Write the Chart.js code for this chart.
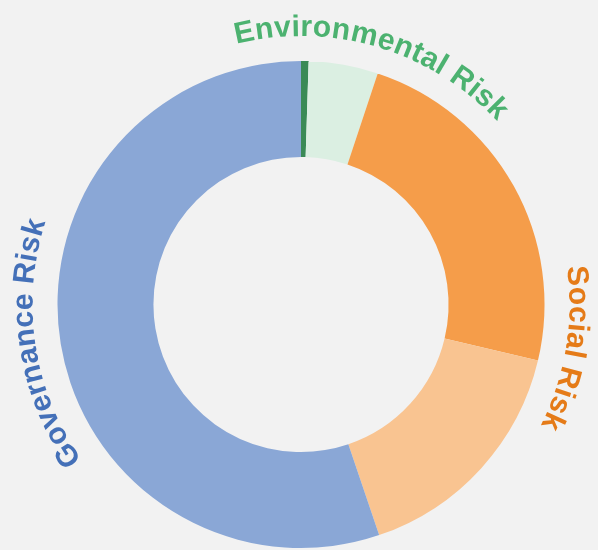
<!DOCTYPE html>
<html>
<head>
<meta charset="utf-8">
<script src="https://cdn.jsdelivr.net/npm/chart.js@4.4.1/dist/chart.umd.min.js"></script>
<style>
  html, body { margin: 0; padding: 0; background: #f2f2f2; }
  #wrap { width: 598px; height: 550px; position: relative; }
</style>
</head>
<body>
<div id="wrap"><canvas id="chart"></canvas></div>
<script>
// segments of the ring, clockwise from 12 o'clock
const segmentLabels = ["Environmental Risk (severe)", "Environmental Risk", "Social Risk (high)", "Social Risk", "Governance Risk"];
const segmentValues = [0.5, 4.6, 23.6, 16.1, 55.2];
const segmentColors = ["#3a8a56", "#dbefe2", "#f59d4a", "#f9c491", "#8aa7d6"];

// group labels written along the ring
const groupLabels = ["Environmental Risk", "Social Risk", "Governance Risk"];
const groupColors = ["#4cb270", "#e57b18", "#4470b8"];
const groupAngles = [16.5, 99.3, 261.3]; // degrees, clockwise from top

const arcLabels = {
  id: "arcLabels",
  afterDraw(chart, args, opts) {
    const arc = chart.getDatasetMeta(0).data[0];
    const cx = arc.x, cy = arc.y;
    const r = arc.outerRadius + opts.gap;
    const ctx = chart.ctx;
    ctx.save();
    ctx.font = opts.font;
    ctx.textAlign = "center";
    ctx.textBaseline = "alphabetic";
    groupLabels.forEach((text, i) => {
      const chars = Array.from(text);
      const widths = chars.map(c => ctx.measureText(c).width * opts.stretch);
      const total = widths.reduce((a, b) => a + b, 0);
      let a = groupAngles[i] * Math.PI / 180 - total / r / 2;
      ctx.fillStyle = groupColors[i];
      chars.forEach((c, j) => {
        ctx.save();
        ctx.translate(cx, cy);
        ctx.rotate(a + widths[j] / 2 / r);
        ctx.fillText(c, 0, -r);
        ctx.restore();
        a += widths[j] / r;
      });
    });
    ctx.restore();
  }
};

new Chart(document.getElementById("chart"), {
  type: "doughnut",
  data: {
    labels: segmentLabels,
    datasets: [{
      data: segmentValues,
      backgroundColor: segmentColors,
      borderWidth: 0,
      hoverOffset: 0,
    }],
  },
  options: {
    responsive: true,
    maintainAspectRatio: false,
    animation: false,
    cutout: "60.6%",
    layout: {padding: {top: 61, bottom: 2, left: 57.5, right: 53.5}},
    plugins: {
      legend: {display: false},
      tooltip: {enabled: false},
      arcLabels: {gap: 25, font: "bold 30px 'Liberation Sans', Arial, sans-serif", stretch: 1.02},
    },
  },
  plugins: [arcLabels],
});
</script>
</body>
</html>
